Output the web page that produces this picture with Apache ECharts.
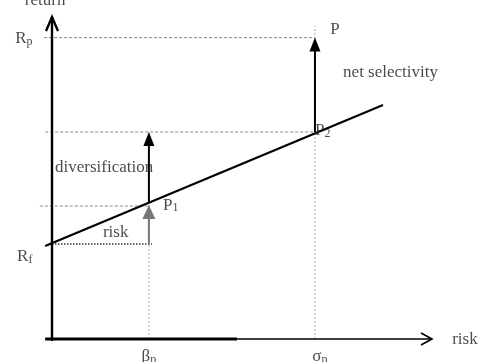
<!DOCTYPE html>
<html><head><meta charset="utf-8">
<script src="https://cdn.jsdelivr.net/npm/echarts@6/dist/echarts.min.js"></script>
<style>html,body{margin:0;padding:0;background:#fff}#c{width:484px;height:362px}</style>
</head><body><div id="c"></div>
<script>
// ---- values (abstract units: risk 0..100 horizontally, return 0..100 vertically)
const betaP = 25.5;
const sigmaP = 69.2;
const Rf = 29.5;
const Rp = 93.6;
const P1y = 42.3;
const P2y = 64.3;
const smlStart = [-1.8, 28.9];
const smlEnd = [87.1, 72.7];

// axes: [x1, y1, x2, y2]
const yAxisSeg = [[0, -0.6, 0, 100]];
const xAxisThick = [[-1.8, 0, 48.7, 0]];
const xAxisThin = [[48.7, 0, 100, 0]];

// security market line
const smlSeg = [[smlStart[0], smlStart[1], smlEnd[0], smlEnd[1]]];

// horizontal dashed guides
const hGuides = [
  [-2.1, Rp, sigmaP, Rp],
  [-1.8, P2y, sigmaP, P2y],
  [-3.2, 41.3, betaP, 41.3]
];
// vertical dotted guides
const vGuides = [
  [betaP, 0, betaP, P2y],
  [sigmaP, 0, sigmaP, 97.2]
];
// dotted "risk" base line
const riskBase = [[0, Rf, 26.3, Rf]];

// arrows [from x, from y, to x, to y]
const blackArrows = [
  [betaP, P1y, betaP, P2y],
  [sigmaP, P2y, sigmaP, Rp]
];
const greyArrows = [
  [betaP, Rf, betaP, 41.6]
];

// text labels
const labelTexts = ['return', 'R|p', 'R|f', 'β|p', 'σ|p', 'P', 'P|2', 'P|1', 'net selectivity', 'diversification', 'risk', 'risk'];
const labelX = [-1.8, -9.7, -9.2, betaP, 70.5, 73.2, 69.2, 29.2, 76.6, 0.8, 13.4, 105.3];
const labelY = [105.0, 93.2, 25.5, -5.4, -5.4, 96.0, 64.6, 41.6, 82.9, 53.4, 33.2, -0.2];
const labelAlign = ['center', 'left', 'left', 'center', 'center', 'left', 'left', 'left', 'left', 'left', 'left', 'left'];

// ---- rendering
const FONT = '"Liberation Serif", "DejaVu Serif", serif';
const TXT = '#1a1a1a';

function segRender(style) {
  return function (params, api) {
    const a = api.coord([api.value(0), api.value(1)]);
    const b = api.coord([api.value(2), api.value(3)]);
    return { type: 'line', shape: { x1: a[0], y1: a[1], x2: b[0], y2: b[1] }, style: Object.assign({}, style) };
  };
}
function arrowRender(color, width, headLen, headHalf) {
  return function (params, api) {
    const a = api.coord([api.value(0), api.value(1)]);
    const b = api.coord([api.value(2), api.value(3)]);
    const dx = b[0] - a[0], dy = b[1] - a[1];
    const L = Math.sqrt(dx * dx + dy * dy) || 1;
    const ux = dx / L, uy = dy / L, px = -uy, py = ux;
    const bx = b[0] - ux * headLen, by = b[1] - uy * headLen;
    return {
      type: 'group',
      children: [
        { type: 'line', shape: { x1: a[0], y1: a[1], x2: bx + ux * 2, y2: by + uy * 2 }, style: { stroke: color, lineWidth: width } },
        { type: 'polygon', shape: { points: [[b[0], b[1]], [bx + px * headHalf, by + py * headHalf], [bx - px * headHalf, by - py * headHalf]] }, style: { fill: color } }
      ]
    };
  };
}
function axisArrowRender(width, armBack, armSide) {
  return function (params, api) {
    const a = api.coord([api.value(0), api.value(1)]);
    const b = api.coord([api.value(2), api.value(3)]);
    const dx = b[0] - a[0], dy = b[1] - a[1];
    const L = Math.sqrt(dx * dx + dy * dy) || 1;
    const ux = dx / L, uy = dy / L, px = -uy, py = ux;
    const bx = b[0] - ux * armBack, by = b[1] - uy * armBack;
    return {
      type: 'group',
      children: [
        { type: 'line', shape: { x1: a[0], y1: a[1], x2: b[0], y2: b[1] }, style: { stroke: '#000', lineWidth: width } },
        { type: 'polyline', shape: { points: [[bx + px * armSide, by + py * armSide], [b[0], b[1]], [bx - px * armSide, by - py * armSide]] }, style: { stroke: '#000', lineWidth: width, fill: null, lineJoin: 'miter' } }
      ]
    };
  };
}
function custom(data, renderItem, z) {
  return { type: 'custom', coordinateSystem: 'cartesian2d', data: data, renderItem: renderItem, clip: false, silent: true, z: z || 2,
           encode: { x: [0, 2], y: [1, 3] } };
}

const labelData = labelTexts.map(function (t, i) {
  const parts = t.split('|');
  const fmt = parts.length > 1 ? '{m|' + parts[0] + '}{s|' + parts[1] + '}' : '{m|' + parts[0] + '}';
  return { value: [labelX[i], labelY[i]], label: { formatter: fmt, align: labelAlign[i] } };
});

const chart = echarts.init(document.getElementById('c'), null, { renderer: 'canvas' });
chart.setOption({
  animation: false,
  backgroundColor: '#fff',
  grid: { left: 52, right: 52, top: 17, bottom: 23 },
  xAxis: { type: 'value', min: 0, max: 100, show: false },
  yAxis: { type: 'value', min: 0, max: 100, show: false },
  series: [
    custom(vGuides, segRender({ stroke: '#aaa', lineWidth: 1, lineDash: [2, 2] }), 1),
    custom(hGuides, segRender({ stroke: '#888', lineWidth: 1, lineDash: [3, 2] }), 1),
    custom(riskBase, segRender({ stroke: '#333', lineWidth: 1.5, lineDash: [1.5, 1.5] }), 2),
    custom(smlSeg, segRender({ stroke: '#000', lineWidth: 2.2 }), 3),
    custom(greyArrows, arrowRender('#777', 2, 14, 6.5), 3),
    custom(blackArrows, arrowRender('#000', 2, 14, 5.5), 3),
    custom(yAxisSeg, axisArrowRender(2.4, 14, 6), 4),
    custom(xAxisThick, segRender({ stroke: '#000', lineWidth: 2.8 }), 4),
    custom(xAxisThin, axisArrowRender(1.6, 11, 6), 4),
    {
      type: 'scatter', symbolSize: 0, silent: true, z: 5, clip: false,
      data: labelData,
      label: {
        show: true, position: 'inside', verticalAlign: 'middle', color: TXT,
        rich: {
          m: { fontFamily: FONT, fontSize: 17, color: TXT, lineHeight: 18 },
          s: { fontFamily: FONT, fontSize: 12, color: TXT, lineHeight: 4, verticalAlign: 'bottom' }
        }
      }
    }
  ]
});
</script>
</body></html>
